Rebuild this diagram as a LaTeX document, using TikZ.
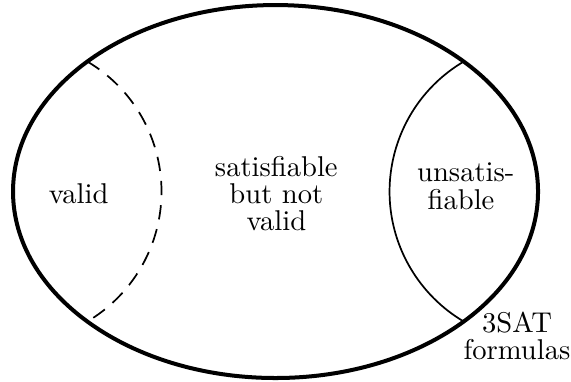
\documentclass[tikz,border=0pt]{standalone}
\begin{document}
\begin{tikzpicture}[lbl/.style={align=center, font=\fontsize{10pt}{9.5pt}\selectfont}]
  \useasboundingbox (-3.385, -2.340) rectangle (3.630, 2.353);
  \draw[line width=1.4pt] (0, 0) ellipse (3.225 and 2.291);
  \draw[semithick, dash pattern=on 5pt off 3.5pt] (-3.256, 0) ++(59.4:1.855) arc[start angle=59.4, end angle=-59.4, radius=1.855];
  \draw[semithick] (3.256, 0) ++(120.6:1.855) arc[start angle=120.6, end angle=239.4, radius=1.855];
  \node[lbl, anchor=base] (valid) at (-2.418, -0.145) {valid};
  \node[lbl] (sat) at (0.01, -0.023) {satisfiable\\but not\\valid};
  \node[lbl] (unsat) at (2.279, 0.064) {unsatis\rlap{-}\\fiable};
  \node[lbl, font=\fontsize{10pt}{9.2pt}\selectfont] (formulas) at (2.967, -1.773) {3SAT\\formulas};
\end{tikzpicture}
\end{document}
